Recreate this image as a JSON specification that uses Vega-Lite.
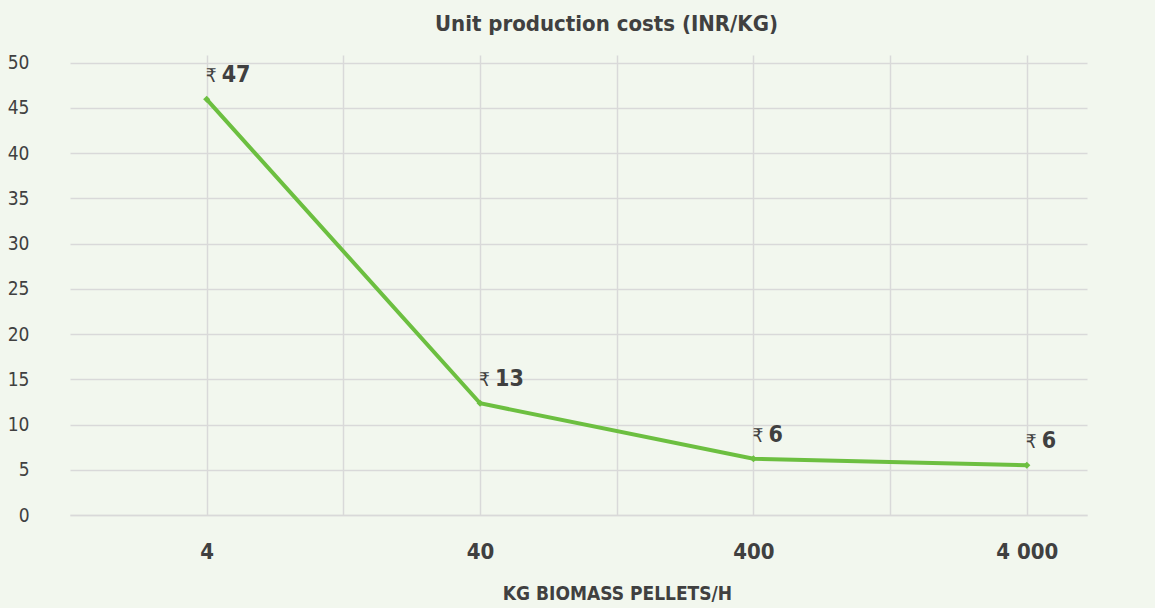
{
  "$schema": "https://vega.github.io/schema/vega-lite/v6.json",
  "autosize": "none",
  "width": 1017,
  "height": 460,
  "padding": {"left": 70, "top": 55, "right": 68, "bottom": 93},
  "background": "#f2f7ee",
  "title": {
    "text": "Unit production costs (INR/KG)",
    "font": "DejaVu Sans Condensed",
    "fontSize": 22,
    "fontWeight": "bold",
    "color": "#404040",
    "anchor": "middle",
    "dx": 28,
    "offset": 18
  },
  "config": {
    "view": {"stroke": null},
    "font": "DejaVu Sans Condensed"
  },
  "data": {
    "values": [
      {"kg_per_h": 4, "cost": 45.95, "currency": "₹", "label": "47"},
      {"kg_per_h": 40, "cost": 12.35, "currency": "₹", "label": "13"},
      {"kg_per_h": 400, "cost": 6.22, "currency": "₹", "label": "6"},
      {"kg_per_h": 4000, "cost": 5.49, "currency": "₹", "label": "6"}
    ]
  },
  "encoding": {
    "x": {
      "field": "kg_per_h",
      "type": "quantitative",
      "scale": {"type": "log", "domain": [1.2649, 6640], "nice": false, "zero": false},
      "axis": {
        "title": "KG BIOMASS PELLETS/H",
        "titleFont": "DejaVu Sans Condensed",
        "titleFontSize": 19,
        "titleFontWeight": "bold",
        "titleColor": "#404040",
        "titleX": 547,
        "titleY": 78,
        "titleAlign": "center",
        "titleBaseline": "middle",
        "values": [4, 12.649, 40, 126.49, 400, 1264.9, 4000],
        "labelExpr": "datum.value == 4000 ? '4 000' : (datum.value == 4 || datum.value == 40 || datum.value == 400) ? toString(datum.value) : ''",
        "labelFont": "DejaVu Sans Condensed",
        "labelFontSize": 22,
        "labelFontWeight": "bold",
        "labelColor": "#404040",
        "labelPadding": 26,
        "labelFlush": false,
        "labelOverlap": false,
        "ticks": false,
        "domain": true,
        "domainColor": "#d9d9d9",
        "domainWidth": 1.5,
        "grid": true,
        "gridColor": "#d9d9d9",
        "gridWidth": 1.5
      }
    },
    "y": {
      "field": "cost",
      "type": "quantitative",
      "scale": {"domain": [0, 50.85], "nice": false},
      "axis": {
        "title": null,
        "values": [0, 5, 10, 15, 20, 25, 30, 35, 40, 45, 50],
        "labelFont": "DejaVu Sans Condensed",
        "labelFontSize": 19,
        "labelColor": "#404040",
        "labelPadding": 41,
        "ticks": false,
        "domain": false,
        "grid": true,
        "gridColor": "#d9d9d9",
        "gridWidth": 1.5
      }
    }
  },
  "layer": [
    {
      "mark": {"type": "line", "color": "#6cbf40", "strokeWidth": 4, "point": {"shape": "diamond", "size": 50, "color": "#6cbf40", "filled": true}}
    },
    {
      "mark": {"type": "text", "align": "left", "baseline": "middle", "dx": -1, "dy": -23, "fontSize": 19, "color": "#404040", "font": "DejaVu Sans Condensed"},
      "encoding": {"text": {"field": "currency"}}
    },
    {
      "mark": {"type": "text", "align": "left", "baseline": "middle", "dx": 15, "dy": -24, "fontSize": 23, "fontWeight": "bold", "color": "#404040", "font": "DejaVu Sans Condensed"},
      "encoding": {"text": {"field": "label"}}
    }
  ]
}
